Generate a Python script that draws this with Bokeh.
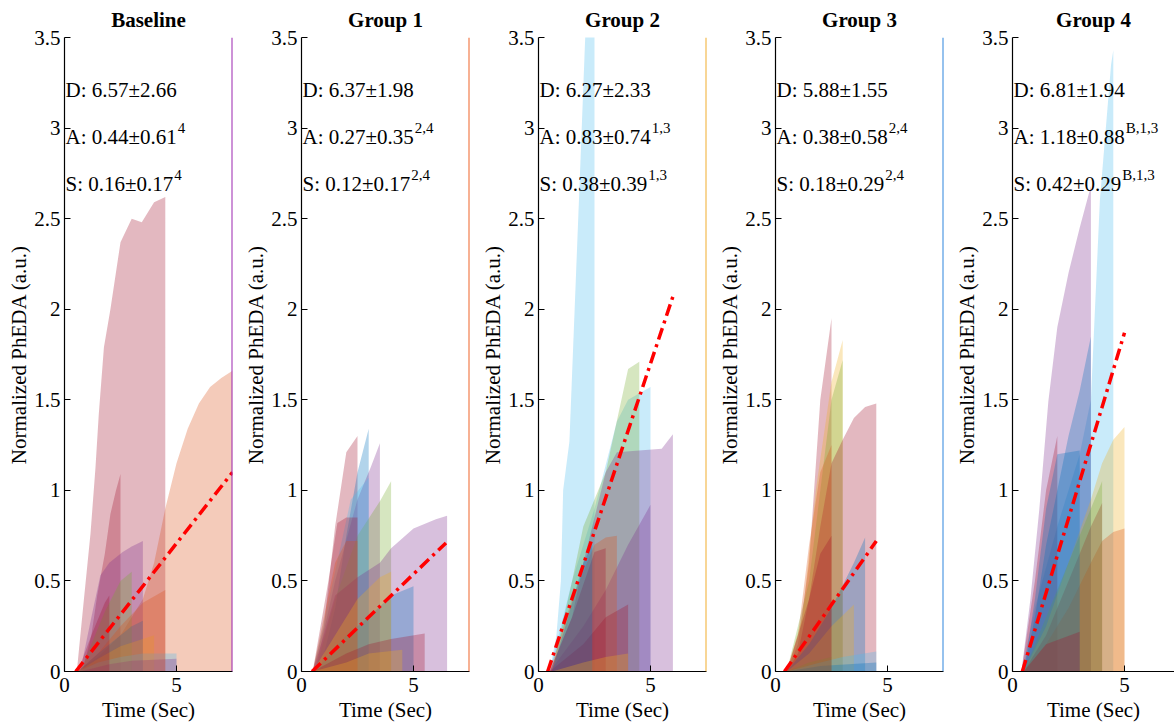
from bokeh.plotting import figure
from bokeh.layouts import row
from bokeh.models import FixedTicker, NumeralTickFormatter, Span, ColumnDataSource, Range1d
from bokeh.embed import file_html
from bokeh.resources import INLINE
from bokeh.core.properties import value

# ---------------- data ----------------
PANEL_TITLES = ["Baseline", "Group 1", "Group 2", "Group 3", "Group 4"]
Y_TICKS = [0, 0.5, 1, 1.5, 2, 2.5, 3, 3.5]
X_TICKS = [0, 5]

STAT_D = ["D: 6.57\u00b12.66", "D: 6.37\u00b11.98", "D: 6.27\u00b12.33", "D: 5.88\u00b11.55", "D: 6.81\u00b11.94"]
STAT_A = ["A: 0.44\u00b10.61", "A: 0.27\u00b10.35", "A: 0.83\u00b10.74", "A: 0.38\u00b10.58", "A: 1.18\u00b10.88"]
STAT_S = ["S: 0.16\u00b10.17", "S: 0.12\u00b10.17", "S: 0.38\u00b10.39", "S: 0.18\u00b10.29", "S: 0.42\u00b10.29"]
SUP_A = ["4", "2,4", "1,3", "2,4", "B,1,3"]
SUP_S = ["4", "2,4", "1,3", "2,4", "B,1,3"]

# red dash-dot trend line: from (start, 0) to (end_t, end_v)
FIT_START = [0.5, 0.47, 0.41, 0.4, 0.44]
FIT_END_T = [7.5, 6.45, 6.0, 4.5, 5.0]
FIT_END_V = [1.10, 0.71, 2.07, 0.72, 1.87]

# response curves (time, value) per panel; area under each curve is filled
BASELINE_T = [
    [0.55, 0.86, 1.16, 1.38, 1.53, 1.76, 2.05, 2.5, 3.0, 3.45, 4.0, 4.5],
    [0.5, 1.5, 2.5, 3.5, 4.0, 4.5, 5.0, 5.5, 6.0, 6.5, 7.0, 7.5],
    [0.8, 1.2, 1.46, 1.8, 2.05, 2.3, 2.5],
    [0.7, 1.2, 1.6, 2.0, 2.6, 3.0, 3.5],
    [0.7, 1.2, 1.8, 2.5, 3.0],
    [0.6, 1.5, 2.5, 3.0, 3.5],
    [0.6, 1.5, 2.5, 3.5, 4.0],
    [0.6, 1.5, 2.5, 3.5, 5.0],
    [0.7, 2.0, 3.0, 5.0],
    [0.6, 1.5, 2.5, 3.5, 4.5],
    [0.6, 1.2, 1.8, 2.0],
]
BASELINE_V = [
    [0, 0.39, 0.76, 1.12, 1.42, 1.79, 2.0, 2.37, 2.5, 2.48, 2.59, 2.62],
    [0, 0.08, 0.2, 0.4, 0.6, 0.9, 1.15, 1.34, 1.48, 1.57, 1.62, 1.66],
    [0, 0.2, 0.42, 0.65, 0.87, 1.0, 1.09],
    [0, 0.3, 0.53, 0.6, 0.66, 0.69, 0.72],
    [0, 0.15, 0.33, 0.5, 0.55],
    [0, 0.1, 0.2, 0.25, 0.28],
    [0, 0.07, 0.14, 0.18, 0.2],
    [0, 0.05, 0.08, 0.1, 0.1],
    [0, 0.04, 0.06, 0.07],
    [0, 0.1, 0.25, 0.38, 0.45],
    [0, 0.2, 0.38, 0.42],
]
BASELINE_C = ["#A2142F", "#D95319", "#A2142F", "#7E2F8E", "#77AC30", "#0072BD",
              "#EDB120", "#4DBEEE", "#7E2F8E", "#D95319", "#A2142F"]

GROUP1_T = [
    [0.5, 1.0, 1.5, 2.0, 2.5],
    [0.8, 1.5, 2.0, 2.5, 3.0],
    [0.6, 1.5, 2.5, 3.1, 3.5],
    [0.6, 1.5, 2.5, 3.5, 4.0],
    [0.5, 1.5, 2.2, 3.0],
    [0.5, 1.0, 1.5, 2.5, 3.5, 4.0, 5.0, 6.0, 6.5],
    [0.5, 1.2, 1.6, 2.0, 2.5],
    [0.6, 2.0, 3.0, 4.0, 5.0],
    [0.5, 1.0, 1.5, 2.0, 2.5],
    [0.5, 1.5, 2.5, 3.5, 4.0],
    [0.5, 2.0, 3.0, 4.0, 5.5],
    [0.5, 2.0, 3.0, 4.5],
]
GROUP1_V = [
    [0, 0.25, 0.8, 1.21, 1.30],
    [0, 0.35, 0.75, 1.1, 1.34],
    [0, 0.5, 0.95, 1.13, 1.26],
    [0, 0.4, 0.75, 0.94, 1.05],
    [0, 0.55, 0.95, 1.07],
    [0, 0.2, 0.42, 0.52, 0.6, 0.68, 0.79, 0.84, 0.86],
    [0, 0.5, 0.82, 0.85, 0.85],
    [0, 0.2, 0.3, 0.42, 0.47],
    [0, 0.3, 0.6, 0.72, 0.72],
    [0, 0.2, 0.4, 0.52, 0.55],
    [0, 0.1, 0.15, 0.18, 0.21],
    [0, 0.05, 0.1, 0.12],
]
GROUP1_C = ["#A2142F", "#0072BD", "#7E2F8E", "#77AC30", "#4DBEEE", "#7E2F8E",
            "#A2142F", "#0072BD", "#D95319", "#EDB120", "#A2142F", "#EDB120"]

GROUP2_T = [
    [0.5, 0.8, 1.0, 1.1, 1.38, 1.84, 2.1, 2.5],
    [0.5, 1.5, 2.5, 3.5, 4.0, 5.0],
    [0.6, 1.5, 2.0, 3.0, 4.0, 4.5],
    [0.5, 1.5, 2.0, 2.5, 3.0, 3.5, 5.5, 6.0],
    [0.5, 2.0, 3.0, 4.0, 5.0],
    [0.5, 1.5, 2.5, 3.0, 3.5],
    [0.5, 1.5, 2.5, 3.0],
    [0.5, 2.0, 3.0, 4.0],
    [0.6, 1.2, 2.0, 2.4],
    [0.6, 2.0, 3.0, 4.0],
]
GROUP2_V = [
    [0, 0.2, 0.5, 1.0, 1.27, 2.71, 3.55, 4.0],
    [0, 0.5, 0.9, 1.38, 1.5, 1.57],
    [0, 0.5, 0.8, 1.1, 1.67, 1.71],
    [0, 0.3, 0.6, 0.85, 1.1, 1.21, 1.23, 1.31],
    [0, 0.25, 0.45, 0.7, 0.92],
    [0, 0.4, 0.7, 0.74, 0.75],
    [0, 0.3, 0.66, 0.68],
    [0, 0.15, 0.3, 0.37],
    [0, 0.25, 0.6, 0.7],
    [0, 0.05, 0.08, 0.1],
]
GROUP2_C = ["#4DBEEE", "#4DBEEE", "#77AC30", "#7E2F8E", "#7E2F8E", "#D95319",
            "#A2142F", "#A2142F", "#0072BD", "#EDB120"]

GROUP3_T = [
    [0.5, 1.0, 1.5, 2.0, 2.5],
    [0.5, 1.2, 1.8, 2.5, 3.0],
    [0.5, 1.5, 2.2, 2.5, 3.0],
    [0.5, 1.0, 1.5, 2.0, 2.5, 3.0, 3.5, 4.0, 4.5],
    [0.5, 1.0, 1.5, 2.0, 2.5],
    [0.5, 1.5, 2.5, 3.5, 4.0],
    [0.5, 1.5, 2.5, 3.5],
    [0.5, 2.0, 3.0, 4.5],
    [0.5, 2.0, 4.5],
    [0.5, 1.5, 2.5],
    [0.5, 1.5, 2.0, 2.5],
]
GROUP3_V = [
    [0, 0.15, 0.6, 1.5, 1.95],
    [0, 0.3, 1.0, 1.6, 1.83],
    [0, 0.5, 1.2, 1.5, 1.72],
    [0, 0.1, 0.4, 0.8, 1.15, 1.28, 1.40, 1.46, 1.48],
    [0, 0.2, 0.7, 1.1, 1.25],
    [0, 0.15, 0.35, 0.6, 0.74],
    [0, 0.1, 0.25, 0.37],
    [0, 0.05, 0.08, 0.11],
    [0, 0.03, 0.05],
    [0, 0.05, 0.08],
    [0, 0.4, 0.65, 0.75],
]
GROUP3_C = ["#A2142F", "#EDB120", "#77AC30", "#A2142F", "#D95319", "#0072BD",
            "#EDB120", "#4DBEEE", "#0072BD", "#77AC30", "#A2142F"]

GROUP4_T = [
    [0.4, 1.0, 2.0, 3.0, 3.5, 3.9, 4.4, 4.5],
    [0.4, 0.8, 1.2, 1.6, 2.0, 2.5, 3.0, 3.5],
    [0.4, 1.0, 1.5, 2.0],
    [0.5, 1.0, 1.5, 2.0, 2.5, 3.0, 3.5],
    [0.5, 1.5, 2.5, 3.5, 4.0, 4.5, 5.0],
    [0.5, 1.5, 2.5, 3.5, 4.0, 4.5, 5.0],
    [0.5, 1.5, 2.5, 3.5, 4.0],
    [0.5, 1.5, 2.5, 3.5, 4.0],
    [0.5, 1.0, 1.5, 2.0, 3.0],
    [0.5, 1.5, 3.0],
]
GROUP4_V = [
    [0, 0.35, 0.8, 1.2, 1.5, 2.6, 3.35, 3.43],
    [0, 0.4, 0.9, 1.49, 1.9, 2.2, 2.45, 2.68],
    [0, 0.5, 1.0, 1.3],
    [0, 0.3, 0.7, 1.0, 1.3, 1.55, 1.85],
    [0, 0.25, 0.6, 0.95, 1.15, 1.28, 1.35],
    [0, 0.15, 0.35, 0.6, 0.72, 0.77, 0.79],
    [0, 0.2, 0.5, 0.8, 0.93],
    [0, 0.3, 0.6, 0.9, 1.05],
    [0, 0.4, 0.9, 1.2, 1.22],
    [0, 0.15, 0.22],
]
GROUP4_C = ["#4DBEEE", "#7E2F8E", "#A2142F", "#0072BD", "#EDB120", "#D95319",
            "#A2142F", "#77AC30", "#0072BD", "#A2142F"]

PANEL_T = [BASELINE_T, GROUP1_T, GROUP2_T, GROUP3_T, GROUP4_T]
PANEL_V = [BASELINE_V, GROUP1_V, GROUP2_V, GROUP3_V, GROUP4_V]
PANEL_C = [BASELINE_C, GROUP1_C, GROUP2_C, GROUP3_C, GROUP4_C]
EDGE_COLORS = ["#9B27B0", "#F0642A", "#F2AE2E", "#2E86DE", None]

# ---------------- layout ----------------
FONT = "Liberation Serif"
PX_PER_SEC = 22.4
FRAME_W = 168
FRAME_H = 634
LEFT_B = 64
RIGHT_B = 5
LAST_FRAME_W = 162
TXT = 21

# Times / Liberation Serif advance widths (1/1000 em)
W = {"D": 722, "A": 722, "S": 556, "B": 667, ":": 278, " ": 250, ".": 250,
     ",": 250, "\u00b1": 549}


def text_w(s, size):
    return sum(W.get(ch, 500) for ch in s) * size / 1000.0


def panel(i):
    last = i == 4
    fw = LAST_FRAME_W if last else FRAME_W
    xmax = fw / PX_PER_SEC
    p = figure(frame_width=fw, frame_height=FRAME_H,
               x_range=Range1d(0, xmax), y_range=Range1d(0, 3.5),
               output_backend="svg", toolbar_location=None,
               min_border_left=LEFT_B, min_border_right=(0 if last else RIGHT_B),
               min_border_top=36, min_border_bottom=50,
               title=PANEL_TITLES[i])
    p.title.align = "center"
    p.title.text_font = FONT
    p.title.text_font_size = f"{TXT}px"
    p.title.text_font_style = "bold"
    p.title.text_color = "black"
    p.title.standoff = 11
    p.outline_line_color = None
    p.grid.grid_line_color = None
    p.background_fill_color = "white"
    p.border_fill_color = "white"

    ts, vs, cs = PANEL_T[i], PANEL_V[i], PANEL_C[i]
    xs = [t + [t[-1], t[0]] for t in ts]
    ys = [v + [0, 0] for v in vs]
    src = ColumnDataSource(dict(xs=xs, ys=ys, c=cs))
    p.patches("xs", "ys", source=src, fill_color="c", fill_alpha=0.3, line_alpha=0)

    p.line([FIT_START[i], FIT_END_T[i]], [0, FIT_END_V[i]], line_color="#FF0000",
           line_width=3.5, line_dash="12 5 3 5")

    if EDGE_COLORS[i]:
        p.add_layout(Span(location=xmax, dimension="height",
                          line_color=EDGE_COLORS[i], line_width=2))

    ys_txt = [3.21, 2.95, 2.69]
    mains = [STAT_D[i], STAT_A[i], STAT_S[i]]
    sups = ["", SUP_A[i], SUP_S[i]]
    p.text(x=[0, 0, 0], y=ys_txt, text=mains, x_offset=1,
           text_font=value(FONT), text_font_size=f"{TXT}px",
           text_baseline="alphabetic", text_align="left", text_color="black")
    for yv, m, s in zip(ys_txt[1:], mains[1:], sups[1:]):
        p.text(x=[0], y=[yv], text=[s], x_offset=1 + text_w(m, TXT) + 1,
               y_offset=-9, text_font=value(FONT), text_font_size="15px",
               text_baseline="alphabetic", text_align="left", text_color="black")

    for ax in (p.xaxis[0], p.yaxis[0]):
        ax.axis_line_color = "black"
        ax.axis_line_width = 1.2
        ax.major_tick_line_color = "black"
        ax.major_tick_in = 6
        ax.major_tick_out = 0
        ax.minor_tick_line_color = None
        ax.major_label_text_font = FONT
        ax.major_label_text_font_size = f"{TXT}px"
        ax.major_label_text_color = "black"
        ax.axis_label_text_font = FONT
        ax.axis_label_text_font_size = f"{TXT}px"
        ax.axis_label_text_font_style = "normal"
        ax.axis_label_text_color = "black"
    p.xaxis.ticker = FixedTicker(ticks=X_TICKS)
    p.yaxis.ticker = FixedTicker(ticks=Y_TICKS)
    p.xaxis.formatter = NumeralTickFormatter(format="0.[0]")
    p.yaxis.formatter = NumeralTickFormatter(format="0.[0]")
    p.xaxis.axis_label = "Time (Sec)"
    p.yaxis.axis_label = "Normalized PhEDA (a.u.)"
    p.xaxis.major_label_standoff = 6
    p.xaxis.axis_label_standoff = 3
    p.yaxis.major_label_standoff = 4
    p.yaxis.axis_label_standoff = 0
    return p


figs = [panel(i) for i in range(5)]
layout = row(*figs, spacing=0)
open("out.html", "w").write(file_html(layout, INLINE))
